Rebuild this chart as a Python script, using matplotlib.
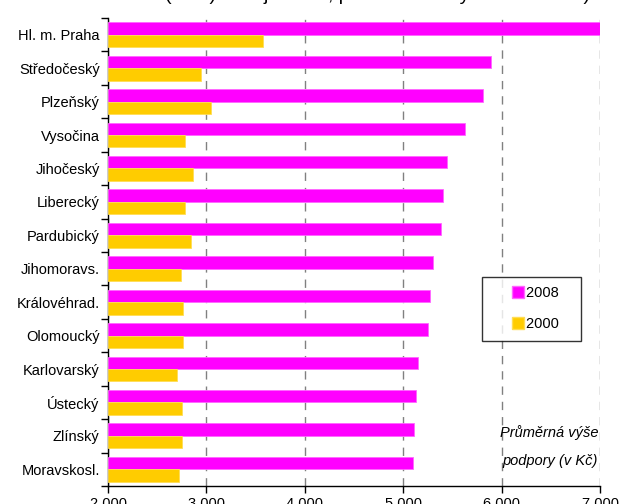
import matplotlib
matplotlib.use("Agg")
import matplotlib.pyplot as plt
from matplotlib.ticker import FuncFormatter, FixedLocator
from matplotlib.lines import Line2D
import numpy as np

plt.rcParams['font.family'] = ['Liberation Sans', 'DejaVu Sans']

regions = ["Hl. m. Praha", "Středočeský", "Plzeňský", "Vysočina", "Jihočeský",
           "Liberecký", "Pardubický", "Jihomoravs.", "Královéhrad.", "Olomoucký",
           "Karlovarský", "Ústecký", "Zlínský", "Moravskosl."]
val_2008 = [7000, 5890, 5810, 5630, 5445, 5405, 5385, 5300, 5277, 5255,
            5153, 5133, 5112, 5095]
val_2000 = [3575, 2942, 3043, 2782, 2864, 2782, 2843, 2742, 2765, 2765,
            2704, 2748, 2748, 2722]
xticks = [2000, 3000, 4000, 5000, 6000, 7000]
series = ["2008", "2000"]

magenta = "#FF00FF"
yellow = "#FFCC00"

fig = plt.figure(figsize=(6.19, 5.04), dpi=100)
ax = fig.add_axes([108/619, 1-486/504, 492/619, 468/504])

n = len(regions)
y = np.arange(n)
h = 0.37
ax.barh(y - h/2, np.array(val_2008) - 2000, left=2000, height=h, color=magenta,
        edgecolor="#FF66FF", linewidth=0.6, zorder=3)
ax.barh(y + h/2, np.array(val_2000) - 2000, left=2000, height=h, color=yellow,
        edgecolor="#FFDD55", linewidth=0.6, zorder=3)

ax.set_xlim(2000, 7000)
ax.set_ylim(n - 0.5, -0.5)
ax.xaxis.set_major_locator(FixedLocator(xticks))
ax.xaxis.set_major_formatter(FuncFormatter(lambda v, p: f"{int(v):,}".replace(",", " ")))
ax.xaxis.grid(True, linestyle=(0, (6, 5)), color="#808080", linewidth=1.0, zorder=0)

# category labels sit between the boundary ticks
ax.set_yticks(np.arange(-0.5, n, 1.0))
ax.set_yticklabels([])
ax.set_yticks(y, minor=True)
ax.set_yticklabels(regions, minor=True, fontsize=10.5)
ax.tick_params(axis="y", which="minor", length=0, pad=6)
ax.tick_params(axis="y", which="major", length=5, width=1, direction="out")
ax.tick_params(axis="x", length=5, width=1, direction="out", labelsize=10.5, pad=3)

for s in ["top", "right"]:
    ax.spines[s].set_visible(False)
for s in ["left", "bottom"]:
    ax.spines[s].set_linewidth(1.0)
    ax.spines[s].set_color("black")

handles = [Line2D([], [], ls="none", marker="s", markersize=8, color=magenta,
                  markeredgecolor="#FF66FF"),
           Line2D([], [], ls="none", marker="s", markersize=8, color=yellow,
                  markeredgecolor="#FFDD55")]
leg = ax.legend(handles, [s + "   " for s in series], loc="upper left",
                bbox_to_anchor=((482-108)/492, (486-277)/468),
                frameon=True, fancybox=False, edgecolor="black", fontsize=10.5,
                handlelength=3.6, handletextpad=-1.2,
                labelspacing=1.15, borderpad=0.65, borderaxespad=0)
leg.get_frame().set_linewidth(1.0)

fig.text(598/619, 1-433/504, "Průměrná výše", ha="right", va="center",
         fontsize=10.5, style="italic")
fig.text(598/619, 1-461/504, "podpory (v Kč)", ha="right", va="center",
         fontsize=10.5, style="italic")

# title is cut off by the top edge, only its bottom shows
fig.text(165/619, 1-0.5/504, "(v Kč) v krajích ČR, průměr za roky 2000 a 2008)",
         ha="left", va="baseline", fontsize=14)

fig.savefig("out.png", dpi=100)
